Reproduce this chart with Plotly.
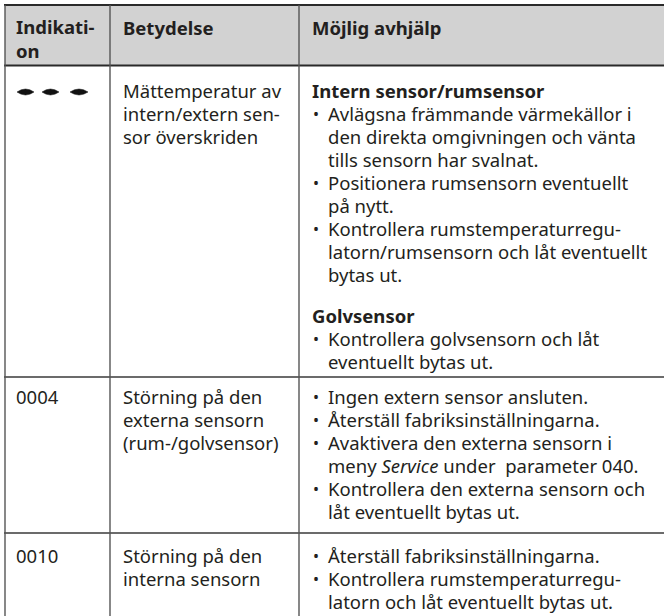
import plotly.graph_objects as go

# ---- table content ----
header = ["Indikati-", "on"]
header_meaning = "Betydelse"
header_remedy = "Möjlig avhjälp"

indication = ["---", "0004", "0010"]

meaning = [
    ["Mättemperatur av", "intern/extern sen-", "sor överskriden"],
    ["Störning på den", "externa sensorn", "(rum-/golvsensor)"],
    ["Störning på den", "interna sensorn"],
]

# kind: h = bold heading, b = bullet start, c = continuation
remedy = [
    [("h", "Intern sensor/rumsensor"),
     ("b", "Avlägsna främmande värmekällor i"),
     ("c", "den direkta omgivningen och vänta"),
     ("c", "tills sensorn har svalnat."),
     ("b", "Positionera rumsensorn eventuellt"),
     ("c", "på nytt."),
     ("b", "Kontrollera rumstemperaturregu-"),
     ("c", "latorn/rumsensorn och låt eventuellt"),
     ("c", "bytas ut."),
     ("h", "Golvsensor"),
     ("b", "Kontrollera golvsensorn och låt"),
     ("c", "eventuellt bytas ut.")],
    [("b", "Ingen extern sensor ansluten."),
     ("b", "Återställ fabriksinställningarna."),
     ("b", "Avaktivera den externa sensorn i"),
     ("c", "meny <i>Service</i> under  parameter 040."),
     ("b", "Kontrollera den externa sensorn och"),
     ("c", "låt eventuellt bytas ut.")],
    [("b", "Återställ fabriksinställningarna."),
     ("b", "Kontrollera rumstemperaturregu-"),
     ("c", "latorn och låt eventuellt bytas ut.")],
]

# ---- layout geometry ----
W, H = 664, 616
FONT = "Noto Sans"
FS = 18.5
HFS = 18.5
TXT = "#231f20"
LINE_STEP = 23
HEAD_GAP = 18

col_x = [5, 110, 299]          # vertical borders
text_x = [14, 121, 310]
bullet_x = 311
bullet_text_x = 326
row_lines = [65.5, 377, 533]   # horizontal borders below header / rows
first_line_y = [90, 396, 555]

fig = go.Figure()
fig.add_trace(go.Scatter(x=[0, W], y=[0, H], mode="markers",
                         marker=dict(opacity=0), hoverinfo="skip", showlegend=False))

shapes = []
# header background
shapes.append(dict(type="rect", x0=col_x[0], x1=W, y0=5, y1=row_lines[0],
                   fillcolor="#d2d2d2", line=dict(width=0), layer="below"))
# top border and header bottom
shapes.append(dict(type="line", x0=col_x[0] - 1, x1=W, y0=5, y1=5,
                   line=dict(color="#2a2a2a", width=2.2)))
shapes.append(dict(type="line", x0=col_x[0] - 1, x1=W, y0=row_lines[0], y1=row_lines[0],
                   line=dict(color="#2a2a2a", width=2.2)))
for yl in row_lines[1:]:
    shapes.append(dict(type="line", x0=col_x[0] - 1, x1=W, y0=yl, y1=yl,
                       line=dict(color="#3a3a3a", width=1.6)))
for xv in col_x:
    shapes.append(dict(type="line", x0=xv, x1=xv, y0=5, y1=H + 5,
                       line=dict(color="#555555", width=1.4)))

annotations = []


def txt(x, y, s, bold=False, size=FS, yanchor="middle"):
    if bold:
        s = "<b>" + s + "</b>"
    annotations.append(dict(x=x, y=y, text=s, showarrow=False, xanchor="left",
                            yanchor=yanchor, xref="x", yref="y", align="left",
                            font=dict(family=FONT, size=size, color=TXT)))


# header
txt(text_x[0], 38.5, "<br>".join(header), bold=True, size=HFS)
txt(text_x[1], 27, header_meaning, bold=True, size=HFS)
txt(text_x[2], 27, header_remedy, bold=True, size=HFS)

# rows
for r in range(len(indication)):
    y0 = first_line_y[r]
    if indication[r] == "---":
        # three lens-shaped dashes
        for dx0, dx1 in [(17, 34), (42, 59), (70, 88)]:
            xm = (dx0 + dx1) / 2
            yy = y0 + 2
            path = (f"M {dx0},{yy} Q {xm},{yy - 6} {dx1},{yy} "
                    f"Q {xm},{yy + 6} {dx0},{yy} Z")
            shapes.append(dict(type="path", path=path, fillcolor="#111111",
                               line=dict(color="#111111", width=0.5)))
    else:
        txt(text_x[0], y0, indication[r])
    for i, s in enumerate(meaning[r]):
        txt(text_x[1], y0 + i * LINE_STEP, s)
    y = y0
    for j, (kind, s) in enumerate(remedy[r]):
        if kind == "h" and j > 0:
            y += HEAD_GAP
        if kind == "h":
            txt(text_x[2], y, s, bold=True)
        else:
            if kind == "b":
                txt(bullet_x, y + 1, "•", size=16)
            txt(bullet_text_x, y, s)
        y += LINE_STEP

fig.update_layout(
    width=W, height=H,
    margin=dict(l=0, r=0, t=0, b=0),
    paper_bgcolor="white", plot_bgcolor="white",
    xaxis=dict(range=[0, W], visible=False, fixedrange=True),
    yaxis=dict(range=[H, 0], visible=False, fixedrange=True),
    shapes=shapes, annotations=annotations, showlegend=False,
)

fig.write_html("out.html", config={"displayModeBar": False},
               post_script="document.body.style.margin='0';document.body.style.padding='0';")
